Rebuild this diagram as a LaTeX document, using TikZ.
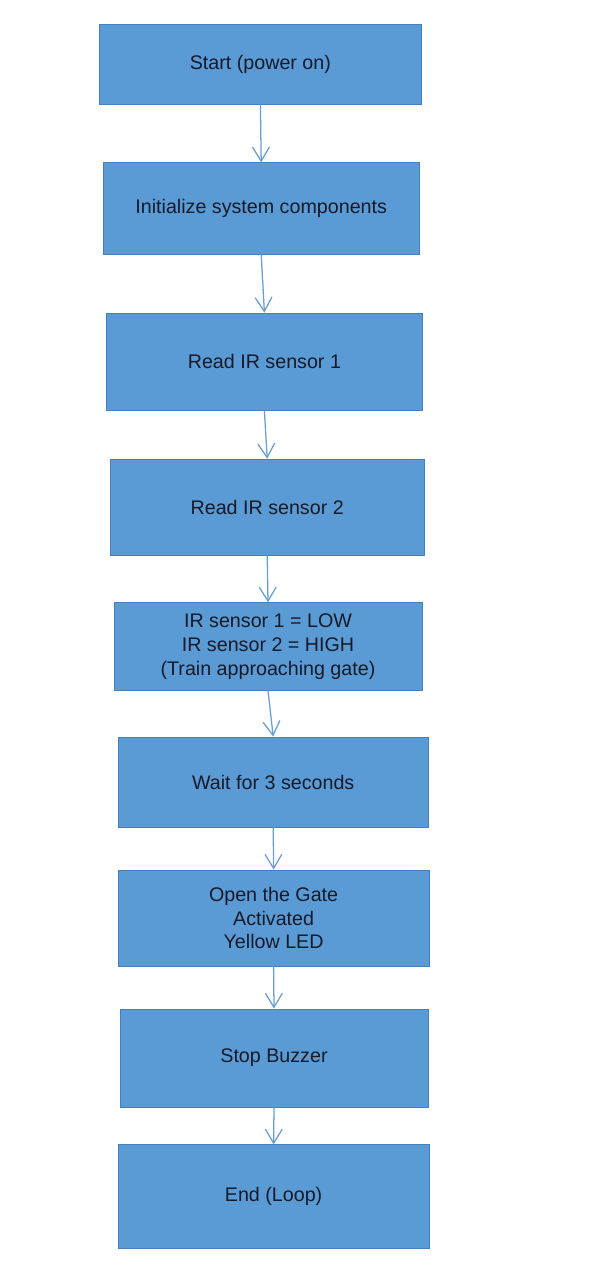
\documentclass[tikz,border=0pt]{standalone}
\usepackage{fontspec}
\setmainfont{Liberation Sans}
\usepackage{tikz}
\usetikzlibrary{arrows.meta, positioning}
\definecolor{boxblue}{RGB}{91,155,213}
\definecolor{boxedge}{RGB}{70,128,188}
\definecolor{arrowblue}{RGB}{104,158,212}
\definecolor{textdark}{RGB}{22,26,40}

\begin{document}
\begin{tikzpicture}[
  every node/.style={font=\fontsize{14}{17}\selectfont, text=textdark},
  proc/.style={rectangle, draw=boxedge, line width=0.6pt, fill=boxblue, align=center, inner sep=0pt},
  flow/.style={-{Straight Barb[length=10pt,width=12pt]}, draw=arrowblue, line width=0.9pt},
]
  \useasboundingbox[fill=white] (0,0) rectangle (15,-32);

  \node[proc,minimum width=8.03cm,minimum height=1.98cm] (S) at (6.51,-1.61) {Start (power on)};
  \node[proc,minimum width=7.9cm,minimum height=2.28cm] (INIT) at (6.53,-5.21) {Initialize system components};
  \node[proc,minimum width=7.88cm,minimum height=2.43cm] (IR1) at (6.61,-9.04) {Read IR sensor 1};
  \node[proc,minimum width=7.85cm,minimum height=2.4cm] (IR2) at (6.68,-12.68) {Read IR sensor 2};
  \node[proc,minimum width=7.7cm,minimum height=2.18cm] (COND) at (6.70,-16.16) {IR sensor 1 = LOW\\IR sensor 2 = HIGH\\(Train approaching gate)};
  \node[proc,minimum width=7.75cm,minimum height=2.25cm] (WAIT) at (6.83,-19.55) {Wait for 3 seconds};
  \node[proc,minimum width=7.78cm,minimum height=2.4cm] (OPEN) at (6.84,-22.95) {Open the Gate\\Activated\\Yellow LED};
  \node[proc,minimum width=7.7cm,minimum height=2.45cm] (BUZ) at (6.85,-26.45) {Stop Buzzer};
  \node[proc,minimum width=7.78cm,minimum height=2.58cm] (END) at (6.84,-29.91) {End (Loop)};

  \draw[flow] (S.south) -- (INIT.north);
  \draw[flow] (INIT.south) -- (IR1.north);
  \draw[flow] (IR1.south) -- (IR2.north);
  \draw[flow] (IR2.south) -- (COND.north);
  \draw[flow] (COND.south) -- (WAIT.north);
  \draw[flow] (WAIT.south) -- (OPEN.north);
  \draw[flow] (OPEN.south) -- (BUZ.north);
  \draw[flow] (BUZ.south) -- (END.north);
\end{tikzpicture}
\end{document}
